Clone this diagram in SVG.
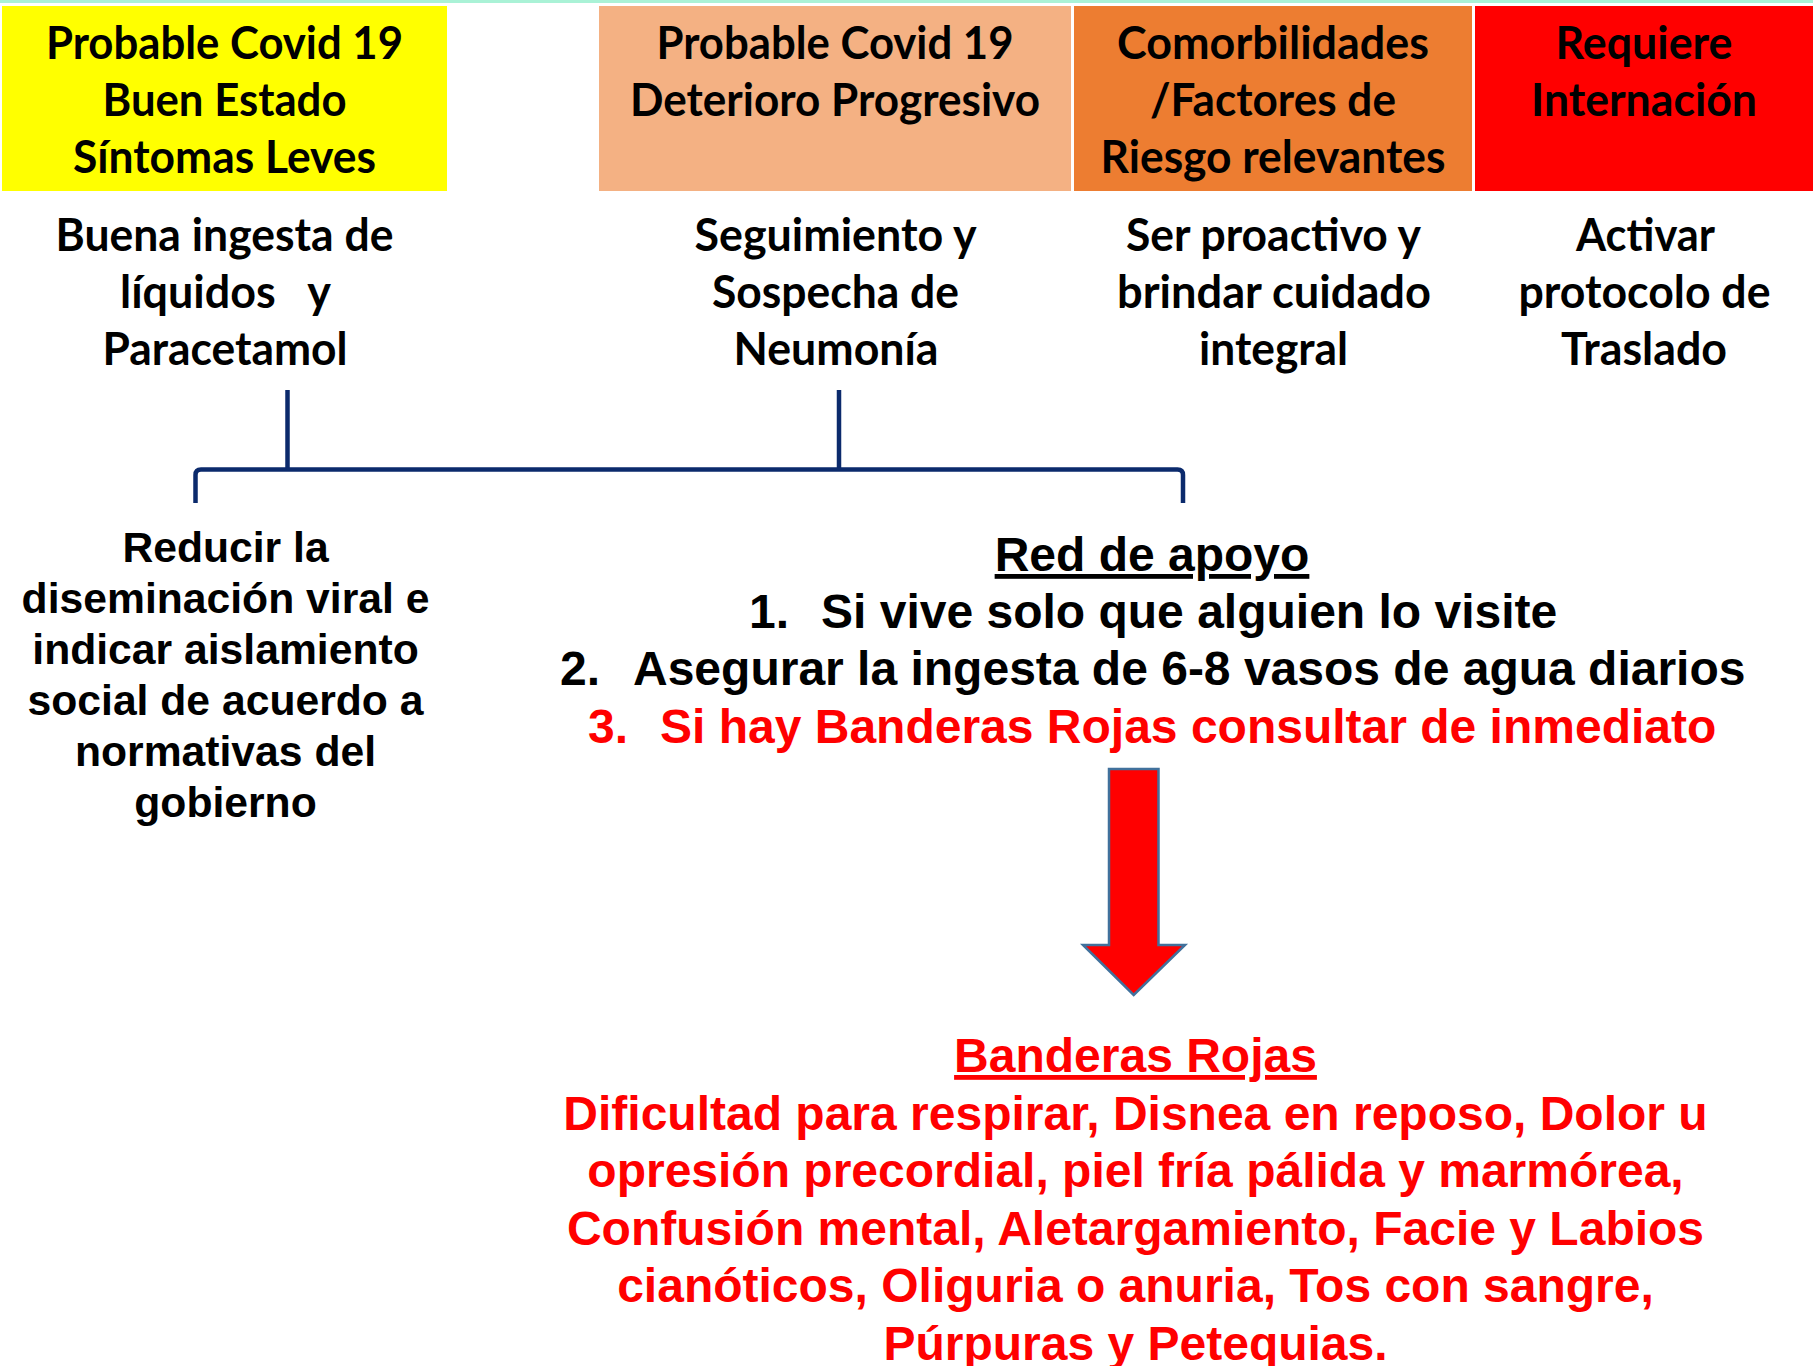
<svg xmlns="http://www.w3.org/2000/svg" width="1813" height="1366" viewBox="0 0 1813 1366">
<style>
.hd{font-family:Lato,"Open Sans","Noto Sans",sans-serif;font-weight:700;font-size:45px;fill:#000;text-anchor:middle}
.ar{font-family:"Liberation Sans",Arial,sans-serif;font-weight:700;fill:#000}
.l{font-size:42.67px;text-anchor:middle}
.m{font-size:48px}
.red{fill:#ff0000}
.c{text-anchor:middle}
.u{text-decoration:underline}
.br{fill:none;stroke:#0b2a6c;stroke-width:4.5}
</style>
<rect x="0" y="0" width="1813" height="1366" fill="#ffffff"/>
<rect x="0" y="0" width="1813" height="3" fill="#aaf2d6"/>

<g id="col1-header">
<rect x="2" y="6" width="445" height="185" fill="#ffff00"/>
<text class="hd" x="224.5" y="59" textLength="357" lengthAdjust="spacingAndGlyphs">Probable Covid 19</text>
<text class="hd" x="224.5" y="116" textLength="244" lengthAdjust="spacingAndGlyphs">Buen Estado</text>
<text class="hd" x="224.5" y="173" textLength="303" lengthAdjust="spacingAndGlyphs">Síntomas Leves</text>
</g>
<g id="col2-header">
<rect x="599" y="6" width="472" height="185" fill="#f4b183"/>
<text class="hd" x="835" y="59" textLength="357" lengthAdjust="spacingAndGlyphs">Probable Covid 19</text>
<text class="hd" x="835" y="116" textLength="410" lengthAdjust="spacingAndGlyphs">Deterioro Progresivo</text>
</g>
<g id="col3-header">
<rect x="1074" y="6" width="398" height="185" fill="#ed7d31"/>
<text class="hd" x="1273" y="59" textLength="312" lengthAdjust="spacingAndGlyphs">Comorbilidades</text>
<text class="hd" x="1273" y="116" textLength="246" lengthAdjust="spacingAndGlyphs">/Factores de</text>
<text class="hd" x="1273" y="173" textLength="345" lengthAdjust="spacingAndGlyphs">Riesgo relevantes</text>
</g>
<g id="col4-header">
<rect x="1475" y="6" width="338" height="185" fill="#ff0000"/>
<text class="hd" x="1644" y="59" textLength="177" lengthAdjust="spacingAndGlyphs">Requiere</text>
<text class="hd" x="1644" y="116" textLength="226" lengthAdjust="spacingAndGlyphs">Internación</text>
</g>

<g id="col1-action">
<text class="hd" x="224.5" y="251" textLength="338" lengthAdjust="spacingAndGlyphs">Buena ingesta de</text>
<text class="hd" x="225.5" y="308" textLength="211" lengthAdjust="spacingAndGlyphs" xml:space="preserve">líquidos   y</text>
<text class="hd" x="225" y="365" textLength="245" lengthAdjust="spacingAndGlyphs">Paracetamol</text>
</g>
<g id="col2-action">
<text class="hd" x="835.5" y="251" textLength="282" lengthAdjust="spacingAndGlyphs">Seguimiento y</text>
<text class="hd" x="835.5" y="308" textLength="247" lengthAdjust="spacingAndGlyphs">Sospecha de</text>
<text class="hd" x="836" y="365" textLength="205" lengthAdjust="spacingAndGlyphs">Neumonía</text>
</g>
<g id="col3-action">
<text class="hd" x="1273.5" y="251" textLength="295" lengthAdjust="spacingAndGlyphs">Ser proactivo y</text>
<text class="hd" x="1274" y="308" textLength="314" lengthAdjust="spacingAndGlyphs">brindar cuidado</text>
<text class="hd" x="1273.5" y="365" textLength="149" lengthAdjust="spacingAndGlyphs">integral</text>
</g>
<g id="col4-action">
<text class="hd" x="1645.5" y="251" textLength="139" lengthAdjust="spacingAndGlyphs">Activar</text>
<text class="hd" x="1644.5" y="308" textLength="252" lengthAdjust="spacingAndGlyphs">protocolo de</text>
<text class="hd" x="1644" y="365" textLength="166" lengthAdjust="spacingAndGlyphs">Traslado</text>
</g>

<g id="connectors">
<line class="br" x1="287.5" y1="390" x2="287.5" y2="469.5"/>
<line class="br" x1="839" y1="390" x2="839" y2="469.5"/>
<path class="br" d="M195.5,503 L195.5,475 Q195.5,469.5 201,469.5 L1177.5,469.5 Q1183,469.5 1183,475 L1183,503"/>
<path d="M1109,769 H1158.5 V945 H1185 L1133.7,995 L1083,945 H1109 Z" fill="#ff0000" stroke="#41719c" stroke-width="2.5" stroke-linejoin="miter"/>
</g>

<g id="isolation">
<text class="ar l" x="225.5" y="561.5">Reducir la</text>
<text class="ar l" x="225.5" y="612.5">diseminación viral e</text>
<text class="ar l" x="225.5" y="663.5">indicar aislamiento</text>
<text class="ar l" x="225.5" y="714.5">social de acuerdo a</text>
<text class="ar l" x="225.5" y="765.5">normativas del</text>
<text class="ar l" x="225.5" y="816.5">gobierno</text>
</g>

<g id="red-de-apoyo">
<text class="ar m c u" x="1152" y="571">Red de apoyo</text>
<text class="ar m" x="749" y="628">1.</text>
<text class="ar m" x="821" y="628">Si vive solo que alguien lo visite</text>
<text class="ar m" x="560" y="685">2.</text>
<text class="ar m" x="633" y="685">Asegurar la ingesta de 6-8 vasos de agua diarios</text>
<text class="ar m red" x="588" y="743">3.</text>
<text class="ar m red" x="660" y="743">Si hay Banderas Rojas consultar de inmediato</text>
</g>

<g id="banderas-rojas">
<text class="ar m c u red" x="1135.5" y="1072">Banderas Rojas</text>
<text class="ar m c red" x="1135.5" y="1129.5">Dificultad para respirar, Disnea en reposo, Dolor u</text>
<text class="ar m c red" x="1135.5" y="1187">opresión precordial, piel fría pálida y marmórea,</text>
<text class="ar m c red" x="1135.5" y="1244.5">Confusión mental, Aletargamiento, Facie y Labios</text>
<text class="ar m c red" x="1135.5" y="1302">cianóticos, Oliguria o anuria, Tos con sangre,</text>
<text class="ar m c red" x="1135.5" y="1359.5">Púrpuras y Petequias.</text>
</g>
</svg>
